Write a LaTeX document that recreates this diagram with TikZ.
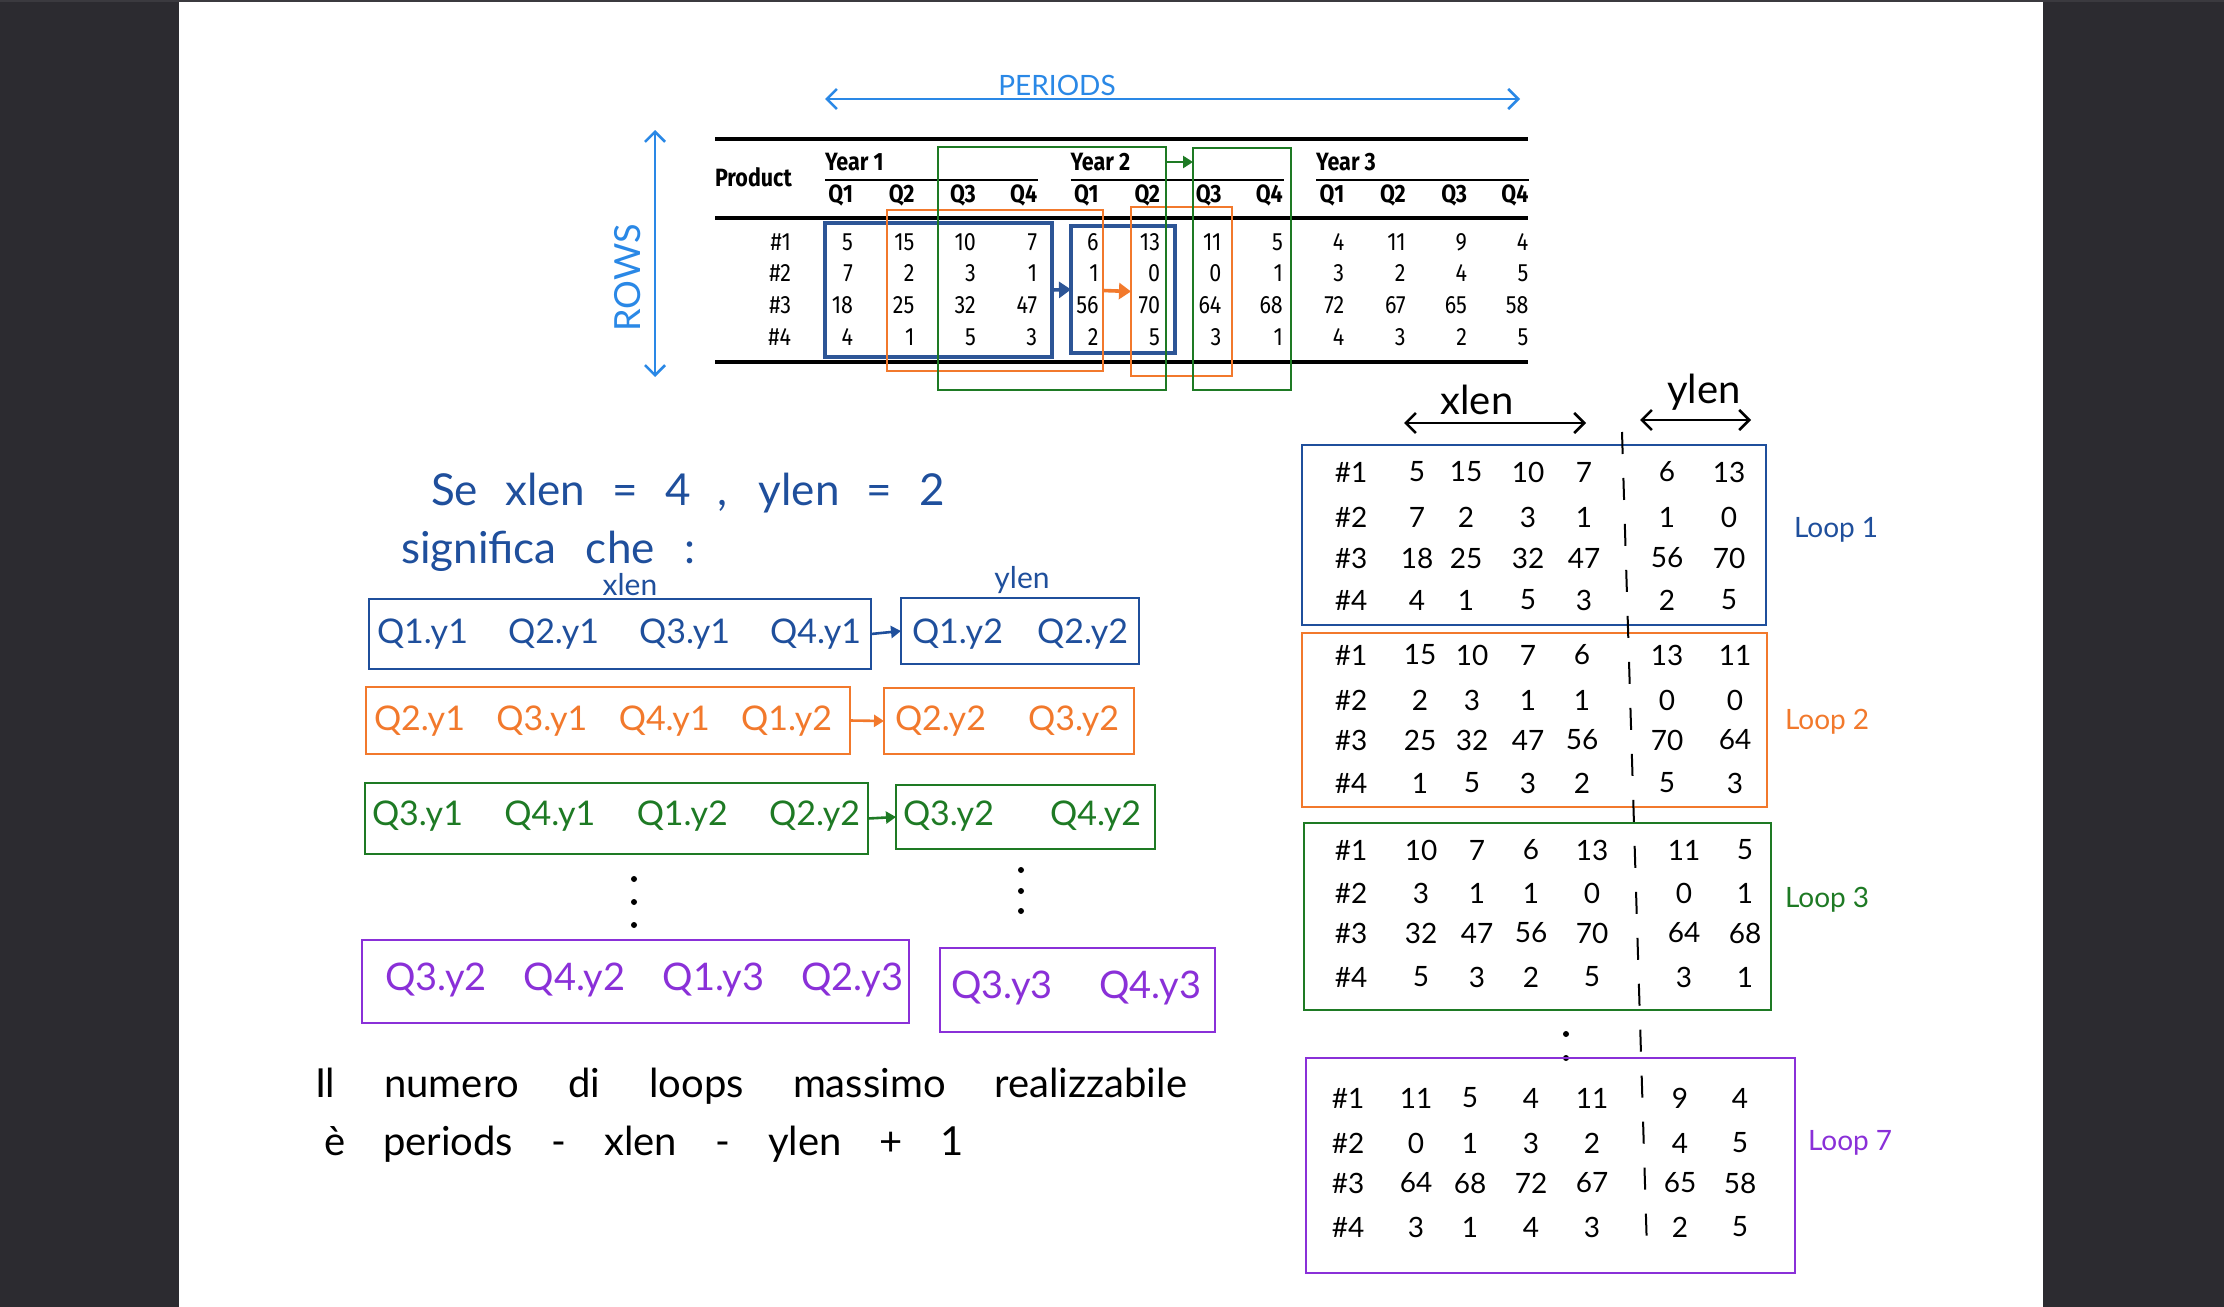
\documentclass[tikz,border=0pt]{standalone}
\usepackage{fontspec}
\usetikzlibrary{arrows.meta, positioning, calc, fit}

\newfontfamily\tabfont[FakeStretch=0.86]{Fira Sans}
\newfontfamily\handfont{Lato}

\begin{document}
\begin{tikzpicture}[
    x=0.5pt, y=-0.5pt,
    every node/.style={inner sep=0pt, outer sep=0pt},
]

\definecolor{pagebg}{HTML}{2C2B30}
\definecolor{pagetop}{HTML}{3B3A3F}
\definecolor{qblue}{HTML}{1F4F9C}
\definecolor{tblue}{HTML}{2D5596}
\definecolor{skyblue}{HTML}{2A88E6}
\definecolor{qorange}{HTML}{F2792C}
\definecolor{qgreen}{HTML}{1E7A24}
\definecolor{qpurple}{HTML}{8A30D8}

% ================================================================
%  Units are the pixels of the 2224 x 1307 sketch, y running down
%  (1 px = 0.5pt).  White sheet from x = 179 to x = 2043.
%
%  Table: 12 quarter columns, numbers flush right at 853 + 61.4 i,
%  rows at 242 / 273 / 305 / 337, rules at 139 / 218 / 362.
%  Left: four rows of windows (x part -> y part), baselines given.
%  Right: the loops stacked at x 1302..1795, one cut line through
%  all of them between the x part and the y part.
% ================================================================

\tikzset{
  tabnum/.style={font=\tabfont\fontsize{12.5}{14}\selectfont, anchor=east},
  tabhead/.style={font=\tabfont\bfseries\fontsize{12.5}{14}\selectfont},
  thickrule/.style={line width=1.6pt},
  thinrule/.style={line width=1.1pt},
  win/.style={draw=#1, line width=1.2pt},
  hand/.style={font=\handfont\fontsize{#1}{#1}\selectfont},
  loopnum/.style={hand=14},
  twoway/.style={{Straight Barb[length=5pt,width=10pt]}-{Straight Barb[length=5pt,width=10pt]},
                 line width=1.3pt},
  hop/.style={-{Triangle[length=5pt,width=6pt]}, line width=1.3pt},
  bighop/.style={-{Triangle[length=6pt,width=8pt]}, line width=1.8pt},
}

% numbers of one loop: #1 name, #2 column xs, #3 row ys, #4 rows
\newcommand{\loopgrid}[4]{%
  \foreach \vals [count=\r] in {#4} {
    \pgfmathsetmacro{\yy}{{#3}[\r-1]}
    \pgfmathsetmacro{\xx}{{#2}[0]}
    \node[loopnum] (#1h\r) at (\xx, \yy) {\#\r};
    \foreach \v [count=\c] in \vals {
      \pgfmathsetmacro{\xx}{{#2}[\c]}
      \node[loopnum] (#1c\r-\c) at (\xx, \yy) {\v};
    }
  }
}

% ---------------------------------------------------------------- sheet
\fill[pagebg] (0,0) rectangle (2224,1307);
\fill[pagetop] (0,0) rectangle (2224,2);
\fill[white] (179,2) rectangle (2043,1307);
\useasboundingbox (0,0) rectangle (2224,1307);

% ---------------------------------------------------------------- table
\draw[thickrule] (715,139) -- (1528,139);
\draw[thickrule] (715,218) -- (1528,218);
\draw[thickrule] (715,362) -- (1528,362);
\node[tabhead, anchor=west] (product) at (715,177) {Product};

\foreach \g/\yr in {0/1, 1/2, 2/3} {
    \node[tabhead, anchor=west] (year\yr) at ({825+245.6*\g}, 162) {Year \yr};
    \draw[thinrule] ({825+245.6*\g}, 180) -- ({1038+245.6*\g}, 180);
    \foreach \q in {1,...,4}
        \node[tabhead, anchor=east] (q\yr\q) at ({853+245.6*\g+61.4*(\q-1)}, 195) {Q\q};
}

\foreach \r/\yy/\vals in {
    1/242/{5,15,10,7,6,13,11,5,4,11,9,4},
    2/273/{7,2,3,1,1,0,0,1,3,2,4,5},
    3/305/{18,25,32,47,56,70,64,68,72,67,65,58},
    4/337/{4,1,5,3,2,5,3,1,4,3,2,5}} {
    \node[tabnum] (prod\r) at (791, \yy) {\#\r};
    \foreach \v [count=\c from 0] in \vals
        \node[tabnum] (cell\r-\c) at ({853+61.4*\c}, \yy) {\v};
}

% ---------------------------------------------------------------- windows on the table
\node[win=tblue, line width=1.6pt, fit={(825,223) (1052,357)}] (tb1) {};
\node[win=tblue, line width=1.6pt, fit={(1071,226) (1175,353)}] (tb2) {};
\node[win=qorange, fit={(887,210) (1103,371)}] (to1) {};
\node[win=qorange, fit={(1131,207) (1232,376)}] (to2) {};
\node[win=qgreen, fit={(938,147) (1166,390)}] (tg1) {};
\node[win=qgreen, fit={(1193,148) (1291,390)}] (tg2) {};
\draw[bighop, tblue] (tb1.east) -- (tb2.west);
\draw[bighop, qorange] (to1.east) -- (to2.west);
\draw[hop, qgreen] (tg1.east |- year2) -- (tg2.west |- year2);

% ---------------------------------------------------------------- axes
\coordinate (per0) at (825,99);
\coordinate (per1) at (1520,99);
\draw[twoway, skyblue] (per0) -- (per1);
\node[hand=14, text=skyblue] (periods) at (1057,85) {PERIODS};

\coordinate (rows0) at (655,130);
\coordinate (rows1) at (655,377);
\draw[twoway, skyblue] (rows0) -- (rows1);
\node[hand=18, text=skyblue, rotate=90] (rows) at (628,278) {ROWS};

% ---------------------------------------------------------------- left: the windows written out
\node[hand=22, text=qblue, anchor=base west] (se) at (431,505)
    {\makebox[257pt][s]{Se xlen = 4 , ylen = 2}};
\node[hand=22, text=qblue, anchor=base west] (sig) at (401,563)
    {\makebox[147pt][s]{significa che :}};
\node[hand=15, text=qblue] (xlensm) at (630,585) {xlen};
\node[hand=15, text=qblue] (ylensm) at (1022,580) {ylen};

\node[win=qblue, fit={(369,599) (871,669)}] (xw1) {};
\node[win=qblue, fit={(901,598) (1139,664)}] (yw1) {};
\draw[hop, qblue] (xw1.east) -- (yw1.west);
\node[hand=17, text=qblue, anchor=base] (xt1) at (619,643)
    {\makebox[242pt][s]{Q1.y1 Q2.y1 Q3.y1 Q4.y1}};
\node[hand=17, text=qblue, anchor=base] (yt1) at (1020,643)
    {\makebox[108pt][s]{Q1.y2 Q2.y2}};

\node[win=qorange, fit={(366,687) (850,754)}] (xw2) {};
\node[win=qorange, fit={(884,688) (1134,754)}] (yw2) {};
\draw[hop, qorange] (xw2.east) -- (yw2.west);
\node[hand=17, text=qorange, anchor=base] (xt2) at (603,730)
    {\makebox[229pt][s]{Q2.y1 Q3.y1 Q4.y1 Q1.y2}};
\node[hand=17, text=qorange, anchor=base] (yt2) at (1007,730)
    {\makebox[112pt][s]{Q2.y2 Q3.y2}};

\node[win=qgreen, fit={(365,783) (868,854)}] (xw3) {};
\node[win=qgreen, fit={(896,785) (1155,849)}] (yw3) {};
\draw[hop, qgreen] (xw3.east) -- (yw3.west);
\node[hand=17, text=qgreen, anchor=base] (xt3) at (616,825)
    {\makebox[244pt][s]{Q3.y1 Q4.y1 Q1.y2 Q2.y2}};
\node[hand=17, text=qgreen, anchor=base] (yt3) at (1022,825)
    {\makebox[119pt][s]{Q3.y2 Q4.y2}};

\foreach \yy in {879,902,925} \fill (634,\yy) circle (3);
\foreach \yy in {870,891,911} \fill (1021,\yy) circle (3);

\node[win=qpurple, fit={(362,940) (909,1023)}] (xw4) {};
\node[win=qpurple, fit={(940,948) (1215,1032)}] (yw4) {};
\node[hand=19, text=qpurple, anchor=base] (xt4) at (644,990)
    {\makebox[259pt][s]{Q3.y2 Q4.y2 Q1.y3 Q2.y3}};
\node[hand=19, text=qpurple, anchor=base] (yt4) at (1076,998)
    {\makebox[125pt][s]{Q3.y3 Q4.y3}};

\node[hand=20, anchor=base west] (concl1) at (315,1097)
    {\makebox[436pt][s]{Il numero di loops massimo realizzabile}};
\node[hand=20, anchor=base west] (concl2) at (324,1155)
    {\makebox[320pt][s]{è periods - xlen - ylen + 1}};

% ---------------------------------------------------------------- right: the loops
\coordinate (xl0) at (1404,423);
\coordinate (xl1) at (1586,423);
\draw[twoway] (xl0) -- (xl1);
\node[hand=20] (xlenlab) at (1477,400) {xlen};
\coordinate (yl0) at (1640,420);
\coordinate (yl1) at (1751,420);
\draw[twoway] (yl0) -- (yl1);
\node[hand=20] (ylenlab) at (1704,392) {ylen};

\node[win=qblue, line width=1pt, fit={(1302,445) (1766,625)}] (loop1) {};
\loopgrid{la}{1351,1417,1466,1528,1584,1667,1729}{472,517,558,600}
    {{5,15,10,7,6,13},{7,2,3,1,1,0},{18,25,32,47,56,70},{4,1,5,3,2,5}}
\node[hand=14, text=qblue, anchor=west] (loop1lab) at (1794,530) {Loop 1};

\node[win=qorange, line width=1pt, fit={(1302,633) (1767,807)}] (loop2) {};
\loopgrid{lb}{1351,1420,1472,1528,1582,1667,1735}{655,700,740,783}
    {{15,10,7,6,13,11},{2,3,1,1,0,0},{25,32,47,56,70,64},{1,5,3,2,5,3}}
\node[hand=14, text=qorange, anchor=west] (loop2lab) at (1785,722) {Loop 2};

\node[win=qgreen, line width=1pt, fit={(1304,823) (1771,1010)}] (loop3) {};
\loopgrid{lc}{1351,1421,1477,1531,1592,1684,1745}{850,893,933,977}
    {{10,7,6,13,11,5},{3,1,1,0,0,1},{32,47,56,70,64,68},{5,3,2,5,3,1}}
\node[hand=14, text=qgreen, anchor=west] (loop3lab) at (1785,900) {Loop 3};

\foreach \yy in {1034,1058} \fill (1566,\yy) circle (3);

\node[win=qpurple, line width=1pt, fit={(1306,1058) (1795,1273)}] (loop7) {};
\loopgrid{lg}{1348,1416,1470,1531,1592,1680,1740}{1098,1143,1183,1227}
    {{11,5,4,11,9,4},{0,1,3,2,4,5},{64,68,72,67,65,58},{3,1,4,3,2,5}}
\node[hand=14, text=qpurple, anchor=west] (loop7lab) at (1808,1143) {Loop 7};

\coordinate (cut0) at (1622,432);
\coordinate (cut1) at (1647,1250);
\draw[line width=1pt, dash pattern=on 11pt off 12pt] (cut0) -- (cut1);

\end{tikzpicture}
\end{document}
